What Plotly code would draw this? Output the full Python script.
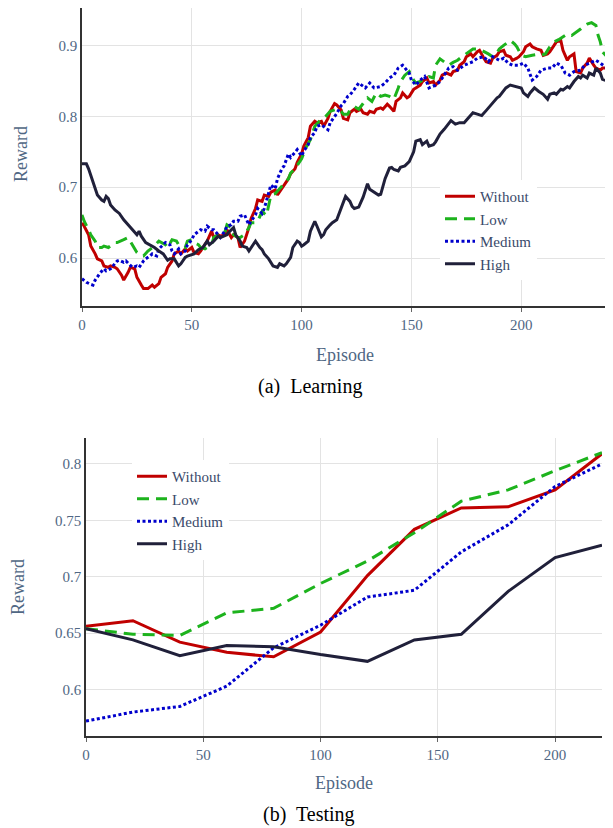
import plotly.graph_objects as go

# ---------------- (a) Learning ----------------
learn_without_ep = [0,1,3,4,6,7,9,10,12,13,15,16,18,19,21,22,24,25,27,28,30,32,33,35,36,38,39,41,42,44,45,47,48,50,51,53,54,56,57,59,60,62,63,65,66,68,69,71,72,74,76,77,79,80,82,83,85,86,88,89,91,92,94,95,97,98,100,101,103,104,106,107,109,110,112,113,115,116,118,119,121,122,124,125,127,128,130,131,133,134,136,137,139,140,142,143,145,146,148,149,151,152,154,155,157,158,160,161,163,164,166,168,169,171,172,174,175,177,178,180,181,183,184,186,187,189,190,192,193,195,196,198,199,201,202,204,205,207,209,210,212,213,215,216,218,219,221,222,224,225,227,228,230,231,233,234,236,237,239]
learn_without = [.650,.645,.633,.617,.606,.599,.596,.589,.587,.589,.587,.585,.576,.569,.580,.587,.585,.573,.562,.557,.557,.562,.559,.564,.573,.578,.587,.596,.606,.610,.606,.613,.610,.615,.608,.606,.610,.619,.624,.638,.629,.633,.631,.633,.640,.629,.633,.629,.615,.624,.643,.656,.670,.682,.680,.689,.687,.693,.696,.689,.698,.703,.712,.719,.726,.735,.747,.758,.770,.786,.793,.791,.793,.786,.797,.807,.818,.816,.809,.797,.795,.805,.810,.807,.810,.805,.803,.807,.805,.810,.812,.810,.817,.814,.807,.821,.826,.833,.826,.828,.838,.840,.844,.849,.854,.847,.849,.844,.851,.858,.861,.858,.863,.865,.872,.877,.884,.888,.884,.891,.893,.882,.877,.875,.882,.886,.891,.893,.886,.884,.879,.882,.884,.891,.898,.902,.898,.895,.893,.886,.888,.891,.900,.905,.907,.893,.879,.884,.888,.863,.861,.868,.875,.882,.872,.868,.865,.868,.868]

learn_low_ep = [0,1,3,4,6,7,9,10,12,13,15,16,18,19,21,22,24,25,27,28,30,32,33,35,36,38,39,41,43,44,47,48,50,51,53,54,56,57,59,60,62,63,65,66,68,69,71,72,74,76,77,79,80,82,84,86,88,90,92,94,95,97,100,102,104,106,108,110,111,113,114,116,118,119,121,122,124,126,128,130,132,134,136,138,140,142,144,145,147,149,151,152,154,155,158,160,161,163,165,167,169,171,173,176,178,180,182,185,187,189,190,192,195,197,198,200,202,205,207,209,211,213,215,217,219,221,223,225,227,229,230,232,234,235,236,237,239]
learn_low = [.661,.652,.640,.633,.624,.615,.615,.617,.615,.617,.622,.622,.624,.626,.629,.624,.615,.608,.603,.603,.610,.615,.617,.624,.622,.619,.615,.626,.624,.619,.615,.624,.626,.622,.619,.615,.613,.615,.619,.629,.633,.633,.636,.647,.643,.633,.629,.629,.633,.643,.650,.650,.652,.666,.660,.689,.691,.698,.705,.712,.720,.726,.740,.756,.767,.786,.793,.797,.800,.807,.808,.810,.807,.803,.803,.809,.814,.810,.818,.826,.821,.833,.828,.830,.828,.824,.840,.849,.858,.863,.851,.847,.849,.851,.856,.854,.872,.881,.877,.872,.876,.879,.884,.891,.895,.895,.893,.888,.884,.890,.895,.900,.907,.902,.898,.886,.884,.886,.887,.886,.888,.898,.905,.908,.912,.916,.914,.918,.923,.928,.930,.932,.928,.914,.905,.891,.884]

learn_medium_ep = [0,2,4,5,6,8,10,11,13,14,16,17,19,20,22,23,25,26,28,29,31,32,34,35,37,38,40,41,42,44,45,47,48,50,51,53,54,56,57,59,60,62,63,65,66,68,69,71,72,74,76,77,79,80,82,83,85,86,88,89,91,92,94,95,97,98,100,101,103,104,106,107,109,110,112,113,115,116,118,119,121,122,124,126,129,131,133,136,138,140,142,144,146,147,149,150,152,154,156,158,161,163,165,167,169,171,174,176,178,180,183,185,187,190,192,194,196,199,201,203,205,207,209,212,214,216,218,220,222,224,227,229,231,234,236,238,239]
learn_medium = [.571,.566,.563,.562,.569,.578,.585,.582,.585,.589,.596,.597,.594,.596,.589,.587,.589,.587,.596,.599,.603,.606,.603,.613,.619,.622,.619,.610,.606,.613,.606,.610,.619,.626,.633,.638,.640,.638,.645,.640,.640,.633,.629,.638,.645,.647,.652,.652,.659,.661,.647,.652,.661,.670,.663,.670,.693,.703,.698,.712,.726,.730,.747,.742,.749,.753,.744,.751,.760,.770,.777,.786,.788,.786,.781,.791,.800,.804,.815,.818,.828,.830,.838,.847,.840,.847,.840,.842,.847,.854,.858,.868,.872,.868,.861,.851,.844,.851,.856,.840,.844,.849,.858,.868,.870,.865,.872,.875,.877,.882,.884,.877,.884,.879,.882,.875,.872,.872,.875,.868,.851,.856,.865,.868,.868,.875,.872,.861,.858,.863,.865,.872,.875,.879,.875,.870,.868]

learn_high_ep = [0,2,3,5,7,9,10,11,12,13,15,17,19,21,23,25,26,27,29,31,33,35,37,39,40,42,44,45,47,48,51,53,55,57,58,60,62,63,66,67,69,70,72,73,75,76,78,79,81,82,83,85,87,89,90,92,93,95,96,98,99,100,101,103,104,106,107,109,110,111,113,114,116,117,119,120,122,123,124,126,128,130,131,133,135,136,138,140,141,142,144,145,147,149,151,152,154,155,157,158,160,161,163,165,167,168,170,172,174,176,178,180,182,184,187,189,190,192,193,195,197,198,200,201,203,204,206,208,210,212,213,215,216,218,219,221,222,224,226,227,228,230,231,233,234,236,237,239]
learn_high = [.733,.733,.726,.707,.689,.682,.680,.687,.684,.675,.668,.663,.654,.647,.640,.633,.638,.631,.622,.619,.615,.610,.606,.597,.599,.599,.589,.592,.601,.603,.606,.612,.615,.624,.619,.624,.631,.629,.633,.637,.643,.633,.624,.617,.615,.610,.619,.624,.615,.612,.606,.599,.589,.587,.592,.589,.592,.601,.615,.624,.622,.617,.619,.624,.638,.652,.645,.630,.633,.640,.647,.650,.654,.663,.680,.687,.680,.673,.670,.672,.686,.705,.697,.693,.689,.690,.712,.727,.728,.725,.723,.728,.730,.736,.750,.765,.767,.760,.765,.758,.760,.764,.775,.782,.789,.794,.789,.791,.791,.798,.805,.803,.801,.808,.819,.826,.828,.835,.840,.844,.842,.842,.840,.833,.828,.833,.840,.835,.831,.824,.831,.833,.831,.838,.837,.842,.840,.849,.856,.854,.858,.854,.861,.858,.868,.861,.852,.850]

# ---------------- (b) Testing ----------------
test_ep = [0, 20, 40, 60, 80, 100, 120, 140, 160, 180, 200, 220]
test_without = [0.656, 0.661, 0.642, 0.633, 0.629, 0.651, 0.701, 0.742, 0.761, 0.762, 0.777, 0.809]
test_low = [0.654, 0.649, 0.648, 0.668, 0.672, 0.694, 0.714, 0.739, 0.767, 0.777, 0.794, 0.810]
test_medium = [0.572, 0.580, 0.585, 0.603, 0.637, 0.657, 0.682, 0.688, 0.722, 0.746, 0.780, 0.800]
test_high = [0.654, 0.644, 0.630, 0.639, 0.638, 0.631, 0.625, 0.644, 0.649, 0.687, 0.717, 0.728]

names = ["Without", "Low", "Medium", "High"]
colors = ["#c00000", "#1db31d", "#0000cc", "#20203a"]
dashes = ["solid", "12px,7px", "3px,2.5px", "solid"]

# page body has an 8px margin; figure fills the rest of the window
OFF = 8
W, H = 605, 820
SERIF = "Liberation Serif, Times New Roman, DejaVu Serif, serif"
TICK = "#506784"

fig = go.Figure()

learn_x = [learn_without_ep, learn_low_ep, learn_medium_ep, learn_high_ep]
learn_y = [learn_without, learn_low, learn_medium, learn_high]
for i in range(4):
    fig.add_trace(go.Scatter(x=learn_x[i], y=learn_y[i], mode="lines", name=names[i],
                             line=dict(color=colors[i], width=3, dash=dashes[i]),
                             xaxis="x", yaxis="y", legend="legend", legendgroup="a" + str(i)))

test_y = [test_without, test_low, test_medium, test_high]
for i in range(4):
    fig.add_trace(go.Scatter(x=test_ep, y=test_y[i], mode="lines", name=names[i],
                             line=dict(color=colors[i], width=3, dash=dashes[i]),
                             xaxis="x2", yaxis="y2", legend="legend2", legendgroup="b" + str(i)))

def px_x(p):
    return (p - OFF) / W

def px_y(p):
    return min(1, 1 - (p - OFF) / H)

axis_common = dict(showgrid=True, gridcolor="#e3e3e3", gridwidth=1, showline=True,
                   linecolor="#333333", linewidth=1.5, zeroline=False,
                   tickfont=dict(family=SERIF, size=15, color=TICK), automargin=False)

fig.update_layout(
    width=W, height=H, margin=dict(l=0, r=0, t=0, b=0),
    paper_bgcolor="white", plot_bgcolor="white",
    font=dict(family=SERIF, color=TICK),
    xaxis=dict(domain=[px_x(82), px_x(608)], anchor="y", range=[0, 239.5],
               tickvals=[0, 50, 100, 150, 200], ticks="outside", ticklen=4, tickcolor="#666",
               **axis_common),
    yaxis=dict(domain=[px_y(306), px_y(3)], anchor="x", range=[0.5325, 0.9527],
               tickvals=[0.6, 0.7, 0.8, 0.9], ticks="", **axis_common),
    xaxis2=dict(domain=[px_x(86), px_x(602)], anchor="y2", range=[0, 220],
                tickvals=[0, 50, 100, 150, 200], ticks="outside", ticklen=4, tickcolor="#666",
                **axis_common),
    yaxis2=dict(domain=[px_y(736), px_y(438)], anchor="x2", range=[0.5588, 0.823],
                tickvals=[0.6, 0.65, 0.7, 0.75, 0.8], ticks="", **axis_common),
    legend=dict(x=px_x(440), y=px_y(180), xanchor="left", yanchor="top",
                bgcolor="white", font=dict(family=SERIF, size=15, color="#3a4a6a"),
                tracegroupgap=7.5, traceorder="normal"),
    legend2=dict(x=px_x(132), y=px_y(460), xanchor="left", yanchor="top",
                 bgcolor="white", font=dict(family=SERIF, size=15, color="#3a4a6a"),
                 tracegroupgap=7.5, traceorder="normal"),
    showlegend=True,
)

ann = [
    dict(text="Reward", x=px_x(21), y=px_y(154), textangle=-90, font=dict(size=18, color=TICK)),
    dict(text="Episode", x=px_x(345), y=px_y(355), font=dict(size=18, color=TICK)),
    dict(text="(a)  Learning", x=px_x(310), y=px_y(386), font=dict(size=20, color="black")),
    dict(text="Reward", x=px_x(18), y=px_y(587), textangle=-90, font=dict(size=18, color=TICK)),
    dict(text="Episode", x=px_x(344), y=px_y(783), font=dict(size=18, color=TICK)),
    dict(text="(b)  Testing", x=px_x(309), y=px_y(814), font=dict(size=20, color="black")),
]
for a in ann:
    fig.add_annotation(xref="paper", yref="paper", showarrow=False,
                       xanchor="center", yanchor="middle", **a)

fig.write_html("out.html")
